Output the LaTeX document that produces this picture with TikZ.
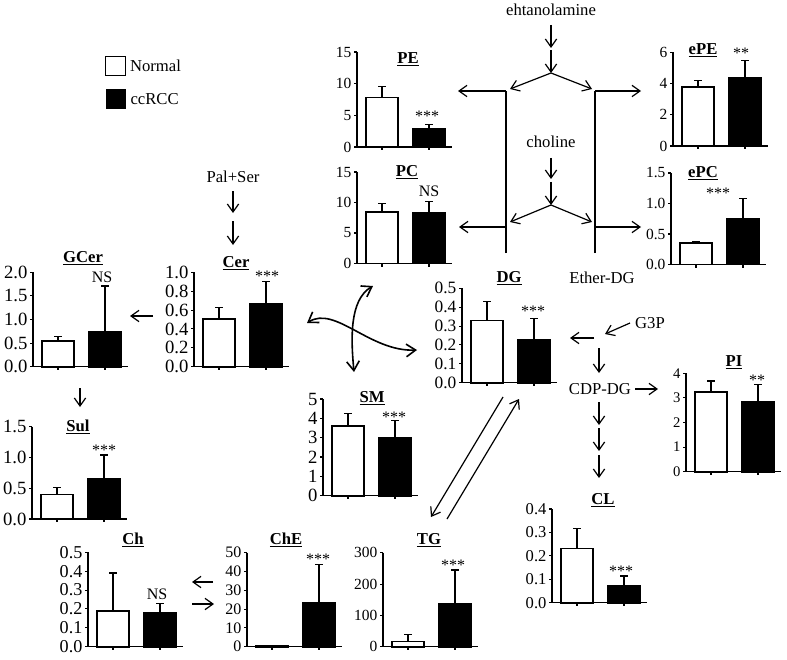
\documentclass[tikz,border=0pt]{standalone}
\usepackage{fontspec}
\setmainfont{Liberation Serif}
\usetikzlibrary{arrows.meta,positioning}

\newcommand\barA{9}
\newcommand\barB{56}
\newcommand\barW{32}
\newcommand\axisLen{95}
\newcommand\capW{4}

\tikzset{
  axisline/.style={black, line width=0.8pt},
  normalbar/.style={draw=black, fill=white, line width=1.2pt},
  rccbar/.style={draw=black, fill=black, line width=1.2pt},
  errbar/.style={black, line width=0.9pt},
  ticklabel/.style={left, inner sep=1pt},
  charttitle/.style={font=\fontsize{12.5}{13}\selectfont\bfseries, inner sep=1pt},
  sig/.style={font=\fontsize{12}{12}\selectfont, inner sep=1pt},
  lbl/.style={font=\fontsize{12.5}{13}\selectfont, inner sep=1pt},
  legendbox/.style={draw=black, line width=0.9pt, minimum size=14.5pt, inner sep=0pt},
  flow/.style={-{Straight Barb[length=6pt,width=8.5pt]}, line width=0.9pt},
  twoway/.style={{Straight Barb[length=7pt,width=9.5pt]}-{Straight Barb[length=7pt,width=9.5pt]}, line width=1.2pt},
}

% #1 name, #2 origin of axes, #3 height (px), #4 ymax, #5 ticks, #6 values, #7 tick font size
\newcommand\barChart[7]{%
  \begin{scope}[shift={#2}, yscale=-#3/#4]
    \pgfmathsetmacro\tickLen{3*#4/#3}
    \draw[axisline] (0,#4) -- (0,0) -- (\axisLen,0);
    \foreach \tk [count=\idx] in {#5}{
      \draw[axisline] (0,\tk) -- (-3,\tk);
      \node[ticklabel, font=\fontsize{#7}{#7}\selectfont] (#1-t\idx) at (-4,\tk) {\tk};
    }
    \foreach \nv/\nerr/\cv/\cerr in {#6}{
      % normal
      \draw[errbar] (\barA+\barW/2,\nv) -- (\barA+\barW/2,\nerr);
      \draw[errbar] (\barA+\barW/2-\capW,\nerr) -- (\barA+\barW/2+\capW,\nerr);
      \draw[normalbar] (\barA,0) rectangle (\barA+\barW,\nv);
      % ccRCC
      \draw[errbar] (\barB+\barW/2,\cv) -- (\barB+\barW/2,\cerr);
      \draw[errbar] (\barB+\barW/2-\capW,\cerr) -- (\barB+\barW/2+\capW,\cerr);
      \draw[rccbar] (\barB,0) rectangle (\barB+\barW,\cv);
    }
    \draw[axisline] (\barA+\barW/2,0) -- (\barA+\barW/2,-\tickLen);
    \draw[axisline] (\barB+\barW/2,0) -- (\barB+\barW/2,-\tickLen);
  \end{scope}}

\begin{document}
\begin{tikzpicture}[x=0.75pt, y=-0.75pt]
    \useasboundingbox (0,0) rectangle (787,659);

    % LEGEND
    \node[legendbox, fill=white] (normalKey) at (115.5,66) {};
    \node[lbl, right=2pt of normalKey] (normalText) {Normal};
    \node[legendbox, fill=black] (rccKey) at (116,99) {};
    \node[lbl, right=2pt of rccKey] (rccText) {ccRCC};

    % CHARTS
    \barChart{PE}{(357,147)}{95}{15}{0,5,10,15}{7.8/9.6/2.8/3.6}{11.6}
    \barChart{PC}{(357,263.5)}{91.5}{15}{0,5,10,15}{8.4/9.8/8.3/10.2}{11.6}
    \barChart{ePE}{(673,146)}{93.5}{6}{0,2,4,6}{3.8/4.2/4.4/5.5}{11.6}
    \barChart{ePC}{(671,264.5)}{91.5}{1.5}{0.0,0.5,1.0,1.5}{0.35/0.38/0.75/1.08}{11.6}
    \barChart{GCer}{(33,366.7)}{94.4}{2.0}{0.0,0.5,1.0,1.5,2.0}{0.54/0.64/0.73/1.71}{14}
    \barChart{Cer}{(194,366.7)}{94.4}{1.0}{0.0,0.2,0.4,0.6,0.8,1.0}{0.505/0.63/0.67/0.90}{14}
    \barChart{Sul}{(32,519)}{92.3}{1.5}{0.0,0.5,1.0,1.5}{0.40/0.51/0.65/1.04}{14}
    \barChart{Ch}{(88,646.7)}{94.4}{0.5}{0.0,0.1,0.2,0.3,0.4,0.5}{0.19/0.39/0.18/0.23}{13.6}
    \barChart{ChE}{(247,646.7)}{94}{50}{0,10,20,30,40,50}{0.5/0.5/23.6/43.8}{12}
    \barChart{TG}{(383,646.7)}{94}{300}{0,100,200,300}{16/40/138/245}{11.6}
    \barChart{SM}{(323,495.7)}{96.7}{5}{0,1,2,3,4,5}{3.6/4.27/2.97/3.87}{14}
    \barChart{DG}{(462,382.7)}{94.4}{0.5}{0.0,0.1,0.2,0.3,0.4,0.5}{0.33/0.43/0.226/0.34}{13}
    \barChart{CL}{(552,602.7)}{93.7}{0.4}{0.0,0.1,0.2,0.3,0.4}{0.232/0.318/0.071/0.114}{12.4}
    \barChart{PI}{(686,471.7)}{98.4}{4}{0,1,2,3,4}{3.25/3.69/2.84/3.55}{11}

    % TITLES
    \node[charttitle] (PE-title) at (408,59) {\underline{PE}};
    \node[charttitle] (PC-title) at (407,172) {\underline{PC}};
    \node[charttitle] (ePE-title) at (703,50) {\underline{ePE}};
    \node[charttitle] (ePC-title) at (703,173) {\underline{ePC}};
    \node[charttitle] (GCer-title) at (83,258) {\underline{GCer}};
    \node[charttitle] (Cer-title) at (236,263) {\underline{Cer}};
    \node[charttitle] (Sul-title) at (78,427) {\underline{Sul}};
    \node[charttitle] (Ch-title) at (133,540) {\underline{Ch}};
    \node[charttitle] (ChE-title) at (286,540) {\underline{ChE}};
    \node[charttitle] (TG-title) at (429,540) {\underline{TG}};
    \node[charttitle] (SM-title) at (372,398) {\underline{SM}};
    \node[charttitle] (DG-title) at (509,278) {\underline{DG}};
    \node[charttitle] (CL-title) at (603,500) {\underline{CL}};
    \node[charttitle] (PI-title) at (734,362) {\underline{PI}};

    % SIGNIFICANCE
    \node[sig] (PE-sig) at (427,116) {***};
    \node[sig] (PC-sig) at (429,191) {NS};
    \node[sig] (ePE-sig) at (741,53) {**};
    \node[sig] (ePC-sig) at (718,193) {***};
    \node[sig] (GCer-sig) at (102,277) {NS};
    \node[sig] (Cer-sig) at (267,276) {***};
    \node[sig] (Sul-sig) at (104,450) {***};
    \node[sig] (Ch-sig) at (157,594) {NS};
    \node[sig] (ChE-sig) at (318,559) {***};
    \node[sig] (TG-sig) at (453,565) {***};
    \node[sig] (SM-sig) at (394,417) {***};
    \node[sig] (DG-sig) at (533,311) {***};
    \node[sig] (CL-sig) at (621,571) {***};
    \node[sig] (PI-sig) at (757,380) {**};

    % METABOLITES
    \node[lbl] (etha) at (551,10) {ehtanolamine};
    \node[lbl] (chol) at (551,142) {choline};
    \node[lbl] (palser) at (233,177) {Pal+Ser};
    \node[lbl] (etherdg) at (602,278) {Ether-DG};
    \node[lbl] (g3p) at (650,323) {G3P};
    \node[lbl] (cdpdg) at (600,389) {CDP-DG};

    % ETHANOLAMINE BRANCH
    \coordinate (eA) at (551,25);
    \coordinate (eB) at (551,48);
    \coordinate (eC) at (551,50);
    \coordinate (eJ) at (551,73);
    \coordinate (eL) at (510,89);
    \coordinate (eR) at (592,89);
    \draw[flow] (eA) -- (eB);
    \draw[flow] (eC) -- (eJ);
    \draw[flow] (eJ) -- (eL);
    \draw[flow] (eJ) -- (eR);

    % CHOLINE BRANCH
    \coordinate (cA) at (551,158);
    \coordinate (cB) at (551,179);
    \coordinate (cC) at (551,182);
    \coordinate (cJ) at (551,205);
    \coordinate (cL) at (510,222);
    \coordinate (cR) at (592,222);
    \draw[flow] (cA) -- (cB);
    \draw[flow] (cC) -- (cJ);
    \draw[flow] (cJ) -- (cL);
    \draw[flow] (cJ) -- (cR);

    % SIDE LINES TO PE, PC, ePE, ePC
    \coordinate (leftTop) at (506,91);
    \coordinate (leftMid) at (506,227);
    \coordinate (leftBot) at (506,253);
    \coordinate (rightTop) at (595,91);
    \coordinate (rightMid) at (595,227);
    \coordinate (rightBot) at (595,253);
    \coordinate (PE-in) at (458,91);
    \coordinate (PC-in) at (459,227);
    \coordinate (ePE-in) at (641,91);
    \coordinate (ePC-in) at (641,227);
    \draw[axisline] (leftBot) -- (leftTop);
    \draw[axisline] (rightBot) -- (rightTop);
    \draw[flow] (leftTop) -- (PE-in);
    \draw[flow] (leftMid) -- (PC-in);
    \draw[flow] (rightTop) -- (ePE-in);
    \draw[flow] (rightMid) -- (ePC-in);

    % SPHINGOLIPIDS
    \coordinate (pA) at (233,191);
    \coordinate (pB) at (233,213);
    \coordinate (pC) at (233,221);
    \coordinate (pD) at (233,245);
    \coordinate (Cer-out) at (153,316);
    \coordinate (GCer-in) at (130,316);
    \coordinate (GCer-out) at (80,388);
    \coordinate (Sul-in) at (80,407);
    \draw[flow] (pA) -- (pB);
    \draw[flow] (pC) -- (pD);
    \draw[flow] (Cer-out) -- (GCer-in);
    \draw[flow] (GCer-out) -- (Sul-in);

    % CURVED EXCHANGE
    \coordinate (SM-end) at (354,372);
    \coordinate (PC-end) at (373,286);
    \coordinate (Cer-end) at (307,323);
    \coordinate (DG-end) at (417,350);
    \draw[twoway] (SM-end) .. controls (351,340) and (349,300) .. (PC-end);
    \draw[twoway] (Cer-end) .. controls (335,305) and (370,352) .. (DG-end);

    % CHOLESTEROL
    \coordinate (ChE-out) at (213,582);
    \coordinate (Ch-in) at (192,582);
    \coordinate (Ch-out) at (192,604);
    \coordinate (ChE-in) at (214,604);
    \draw[flow] (ChE-out) -- (Ch-in);
    \draw[flow] (Ch-out) -- (ChE-in);

    % DG AND TG
    \coordinate (DG-out) at (503,397);
    \coordinate (TG-in) at (431,517);
    \coordinate (TG-out) at (447,519);
    \coordinate (DG-in) at (519,399);
    \draw[flow] (DG-out) -- (TG-in);
    \draw[flow] (TG-out) -- (DG-in);

    % G3P PATH
    \coordinate (g3pA) at (630,323);
    \coordinate (g3pB) at (605,334);
    \coordinate (dgA) at (594,338);
    \coordinate (dgB) at (570,338);
    \coordinate (cdpA) at (599,348);
    \coordinate (cdpB) at (599,373);
    \coordinate (PI-out) at (635,389);
    \coordinate (PI-in) at (658,389);
    \draw[flow] (g3pA) -- (g3pB);
    \draw[flow] (dgA) -- (dgB);
    \draw[flow] (cdpA) -- (cdpB);
    \draw[flow] (PI-out) -- (PI-in);
    \foreach \yy [count=\s] in {402,428,455}{
      \coordinate (clA\s) at (599,\yy);
      \coordinate (clB\s) at (599,\yy+23);
      \draw[flow] (clA\s) -- (clB\s);
    }

\end{tikzpicture}
\end{document}
